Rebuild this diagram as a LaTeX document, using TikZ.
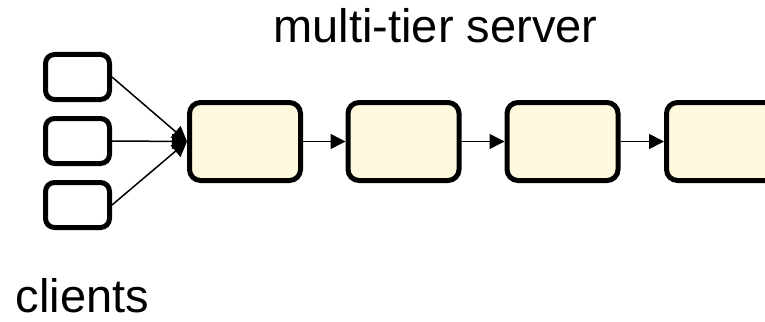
\documentclass[tikz,border=0pt]{standalone}
\usepackage{fontspec}
\setmainfont{Liberation Sans}
\usetikzlibrary{arrows.meta}
\definecolor{tierfill}{RGB}{255,250,221}

\begin{document}
\begin{tikzpicture}[
      x=1pt, y=-1pt,
      cliente/.style={draw, line width=5pt, rounded corners=9pt,
                      minimum width=64pt, minimum height=45pt, inner sep=0pt},
      nivel/.style={draw, fill=tierfill, line width=5pt, rounded corners=11pt,
                    minimum width=111pt, minimum height=78pt, inner sep=0pt},
      flujo/.style={-{Triangle[length=15pt,width=15pt]}, line width=1.5pt},
      rotulo/.style={font=\fontsize{47}{50}\selectfont, anchor=base, inner sep=0pt}
    ]
    \clip (0,0) rectangle (765,321);
    \node[rotulo] (titulo) at (435.5,43) {multi-tier server};
    \node[rotulo] (clientes) at (82.5,312) {clients};

    \node[cliente] (c1) at (77.5,77)  {};
    \node[cliente] (c2) at (77.5,141) {};
    \node[cliente] (c3) at (77.5,205) {};

    \node[nivel] (t1) at (245,141.5) {};
    \node[nivel] (t2) at (403.5,141.5) {};
    \node[nivel] (t3) at (562.5,141.5) {};
    \node[nivel] (t4) at (722,141.5) {};

    \draw[flujo] (c1.east) -- (t1.west);
    \draw[flujo] (c2.east) -- (t1.west);
    \draw[flujo] (c3.east) -- (t1.west);
    \draw[flujo] (t1) -- (t2);
    \draw[flujo] (t2) -- (t3);
    \draw[flujo] (t3) -- (t4);
  \end{tikzpicture}
\end{document}
